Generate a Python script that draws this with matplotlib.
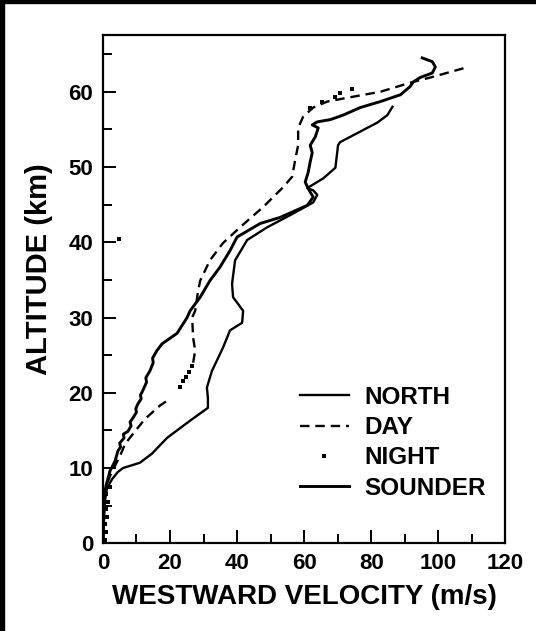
import numpy as np
import matplotlib
matplotlib.use("Agg")
import matplotlib.pyplot as plt
from matplotlib.patches import Rectangle

plt.rcParams['font.family'] = ['Liberation Sans', 'DejaVu Sans']

# Wind profiles: westward velocity (m/s) vs altitude (km); NaN splits a gap
north_v = [0.15, 0.3, 0.6, 1.2, 2.7, 4.5, 6.0, 11.0, 14.6, 19.1, 26.0, 31.3, 31.3, 31.0,
           32.5, 35.8, 37.9, 41.5, 41.8, 38.8, 38.5, 39.4, 43.0, 49.0, 55.8, 62.7, 63.9,
           62.7, 60.9, 65.7, 69.3, 70.1, 70.7, 75.8, 81.8, 84.8, 86.3]
north_z = [0.0, 2.9, 5.6, 7.3, 8.5, 9.5, 10.0, 10.7, 11.9, 14.0, 16.3, 18.0, 19.3, 20.7,
           22.9, 26.0, 28.3, 29.3, 30.9, 32.7, 34.5, 37.6, 40.3, 42.0, 43.6, 45.3, 46.3,
           46.9, 47.2, 48.5, 49.9, 52.9, 53.3, 54.5, 55.9, 56.9, 58.0]

day_v = [0.0, 0.15, 0.3, 0.9, 2.1, 3.6, 5.1, 6.6, 9.6, 12.5, 17.0, 20.0, np.nan,
         26.9, 27.5, 26.9, 26.6, 27.5, 28.4, 29.0, 31.9, 35.8, 40.9, 47.8, 53.7, 56.4,
         57.3, 58.2, 58.2, 59.7, 62.7, 66.9, 72.8, 82.7, 91.6, 98.5, 108.1]
day_z = [0.0, 2.9, 5.6, 7.6, 8.9, 10.3, 11.6, 13.2, 14.9, 16.5, 18.3, 19.2, np.nan,
         24.0, 25.6, 27.3, 30.0, 30.9, 33.6, 34.9, 37.6, 39.9, 42.0, 44.7, 47.3, 48.7,
         50.9, 52.9, 55.2, 56.7, 57.9, 58.7, 59.2, 60.0, 61.2, 62.0, 63.2]

night_v = [0.6, 1.0, 0.5, 1.2, 0.8, 1.5, 1.0, 2.0, 4.8,
           23.0, 23.9, 24.8, 25.7, 26.6,
           61.8, 65.4, 69.3, 70.7, 74.3]
night_z = [0.5, 1.5, 2.5, 3.5, 4.5, 5.5, 6.5, 7.5, 40.5,
           20.8, 21.5, 22.1, 22.8, 23.5,
           57.9, 58.7, 59.3, 59.9, 60.4]

sounder_v = [0.0, 0.0, 0.3, 0.9, 2.1, 3.6, 4.5, 5.3, 5.0, 6.3, 6.1, 7.5, 8.4, 8.1, 9.0,
             10.0, 9.8, 10.4, 11.4, 11.2, 11.9, 13.0, 12.8, 14.0, 15.0, 14.8, 16.1,
             17.6, 22.1, 25.1, 26.0, 29.0, 31.9, 34.9, 37.9, 40.0, 46.9, 52.8, 60.9,
             62.7, 61.5, 60.3, 61.2, 61.8, 62.4, 61.8, 63.3, 64.2, 62.4, 63.9, 67.8,
             71.6, 76.7, 82.7, 88.7, 91.6, 92.5, 94.6, 98.2, 99.1, 98.2, 95.2]
sounder_z = [0.0, 2.9, 5.6, 7.6, 9.6, 10.9, 12.3, 12.8, 13.3, 14.0, 14.5, 14.9, 15.6,
             16.1, 16.7, 17.4, 17.9, 18.5, 19.2, 19.7, 20.3, 21.4, 22.0, 22.9, 24.0,
             24.6, 25.6, 26.5, 27.9, 30.0, 30.9, 32.7, 34.9, 36.7, 38.9, 40.7, 42.5,
             43.3, 44.9, 46.0, 46.9, 48.0, 49.3, 50.7, 51.9, 52.9, 54.0, 55.2, 55.6,
             56.0, 56.3, 56.9, 57.9, 58.7, 59.6, 60.7, 61.3, 61.9, 62.5, 63.3, 64.0,
             64.5]

x_ticks = [0, 20, 40, 60, 80, 100, 120]
y_ticks = [0, 10, 20, 30, 40, 50, 60]

fig = plt.figure(figsize=(5.36, 6.31), dpi=100)
ax = fig.add_axes([0.192, 0.139, 0.751, 0.805])

ax.plot(north_v, north_z, color='black', lw=1.7, label='NORTH')
ax.plot(day_v, day_z, color='black', lw=1.7, dashes=(4.0, 2.5), label='DAY')
ax.plot(night_v, night_z, color='black', ls='none', marker='s', ms=2.6,
        mew=0, label='NIGHT')
ax.plot(sounder_v, sounder_z, color='black', lw=2.1, label='SOUNDER')

ax.set_xlim(0, 120)
ax.set_ylim(0, 67.5)
ax.set_xticks(x_ticks)
ax.set_yticks(y_ticks)
ax.set_xticks(np.arange(10, 120, 20), minor=True)
ax.set_yticks(np.arange(5, 67, 10), minor=True)
ax.tick_params(which='both', direction='in', width=1.4, top=False, right=False,
               labelsize=16, pad=7)
ax.tick_params(which='major', length=9.5)
ax.tick_params(which='minor', length=6.5)
for lbl in ax.get_xticklabels() + ax.get_yticklabels():
    lbl.set_fontweight('bold')
for s in ax.spines.values():
    s.set_linewidth(1.6)

ax.set_xlabel('WESTWARD VELOCITY (m/s)', fontsize=20, fontweight='bold', labelpad=7)
ax.set_ylabel('ALTITUDE (km)', fontsize=21, fontweight='bold')
ax.yaxis.set_label_coords(-0.125, 0.54)

ax.legend(loc='upper left', bbox_to_anchor=(0.49, 0.31), frameon=False,
          borderpad=0, borderaxespad=0, handlelength=2.0, handletextpad=0.65,
          labelspacing=0.3, prop={'size': 17.5, 'weight': 'bold'})

# dark scan edge along the left and top
fig.patches.append(Rectangle((0, 0), 0.008, 1, transform=fig.transFigure,
                             color='black', zorder=10))
fig.patches.append(Rectangle((0, 0.995), 1, 0.005, transform=fig.transFigure,
                             color='black', zorder=10))

fig.savefig('out.png', dpi=100)
